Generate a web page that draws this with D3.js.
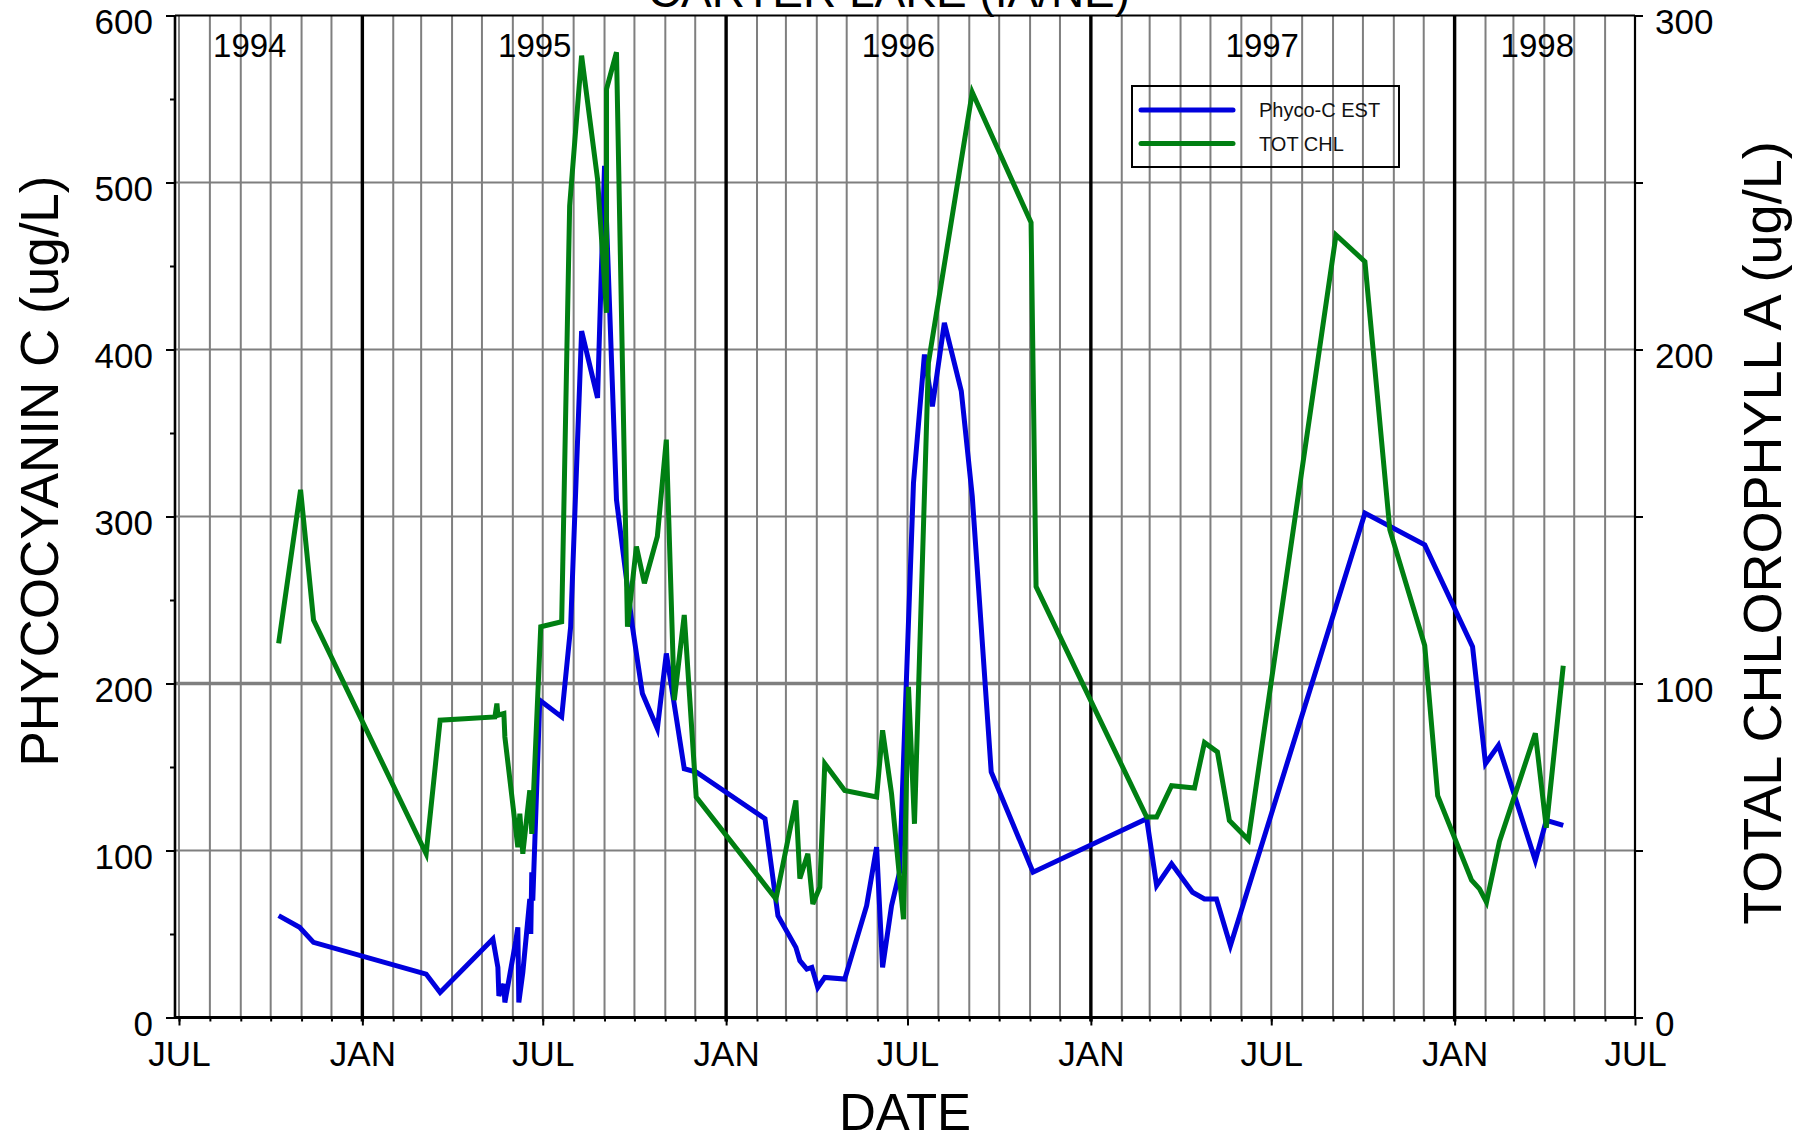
<!DOCTYPE html>
<html>
<head>
<meta charset="utf-8">
<script src="https://cdn.jsdelivr.net/npm/d3@7"></script>
<style>
  body { margin: 0; background: #fff; }
  svg { display: block; font-family: "Liberation Sans", Arial, sans-serif; }
</style>
</head>
<body>
<div id="chart"></div>
<script>
// Phycocyanin C estimate (ug/L, left axis)
const phycoDates = ["1994-10-09","1994-10-30","1994-11-13","1995-03-06","1995-03-20","1995-05-12","1995-05-17","1995-05-18",
  "1995-05-23","1995-05-24","1995-06-04","1995-06-06","1995-06-07","1995-06-11","1995-06-18","1995-06-19","1995-06-20",
  "1995-06-21","1995-06-28","1995-07-20","1995-07-29","1995-08-09","1995-08-25","1995-09-01","1995-09-13","1995-09-29",
  "1995-10-09","1995-10-24","1995-11-02","1995-11-20","1995-12-02","1996-02-09","1996-02-22","1996-03-11","1996-03-15",
  "1996-03-22","1996-03-27","1996-04-02","1996-04-09","1996-04-29","1996-05-21","1996-05-31","1996-06-06","1996-06-15",
  "1996-06-23","1996-07-07","1996-07-18","1996-07-26","1996-08-07","1996-08-24","1996-09-04","1996-09-23","1996-11-04",
  "1997-02-26","1997-03-08","1997-03-23","1997-04-13","1997-04-25","1997-05-07","1997-05-21","1997-10-03","1997-12-02",
  "1998-01-19","1998-02-01","1998-02-14","1998-03-23","1998-04-03","1998-04-20"]
const phycoValues = [61,54,45,26,15,47,30,13,
  20,9,46,54,9,27,71,50,87,
  70,190,180,234,411,371,510,310,234,
  194,173,218,149,147,119,61,42,34,
  29,30,18,24,23,67,102,30,67,
  87,320,397,366,416,375,312,147,87,
  119,79,92,75,71,71,43,302,283,
  222,152,163,94,118,115]

// Total chlorophyll a (ug/L, right axis)
const chlDates = ["1994-10-09","1994-10-31","1994-11-13","1995-03-06","1995-03-20","1995-05-14","1995-05-16","1995-05-17",
  "1995-05-23","1995-05-24","1995-06-06","1995-06-08","1995-06-11","1995-06-18","1995-06-20","1995-06-29","1995-07-20",
  "1995-07-28","1995-08-09","1995-08-25","1995-09-03","1995-09-03","1995-09-13","1995-09-24","1995-10-03","1995-10-11",
  "1995-10-24","1995-11-02","1995-11-10","1995-11-20","1995-12-02","1996-02-20","1996-03-11","1996-03-15","1996-03-23",
  "1996-03-28","1996-04-04","1996-04-09","1996-04-29","1996-05-31","1996-06-06","1996-06-15","1996-06-27","1996-07-02",
  "1996-07-08","1996-07-22","1996-09-04","1996-11-02","1996-11-07","1997-02-26","1997-03-08","1997-03-23","1997-04-15",
  "1997-04-25","1997-05-08","1997-05-20","1997-06-08","1997-09-04","1997-10-03","1997-10-28","1997-12-02","1997-12-15",
  "1998-01-18","1998-01-26","1998-02-02","1998-02-15","1998-03-23","1998-04-03","1998-04-20"]
const chlValues = [112,158,119,49,89,90,94,90.5,
  91,84,51,61,49,68,55,117,118.5,
  243,288,251,211,278,289,117,141,130,
  144,173,95,120.5,66,35.5,65,41.6,49,
  34,39,76,68,66,86,67,29.4,99,
  58,196,277,238,129,60,60,69.4,68.7,
  82.3,79.5,59,53.2,234.3,226.3,146,111.4,66.4,
  41.1,38.5,34.5,52.7,85.1,56.8,105.3]

const yearLabels = ["1994","1995","1996","1997","1998"]
const yearLabelDates = ["1994-09-10","1995-06-23","1996-06-22","1997-06-22","1998-03-25"]
const monthLabels = {0: "JAN", 6: "JUL"}
const leftTicks = [0,100,200,300,400,500,600]
const rightTicks = [0,50,100,150,200,250,300]
const seriesNames = ["Phyco-C EST", "TOT CHL"]
const seriesColors = ["#0000dd", "#007f12"]

const width = 1793, height = 1138
const margin = { top: 15.5, bottom: 120.5, left: 175, right: 158 }
const parse = d3.utcParse("%Y-%m-%d")

const svg = d3.select("#chart").append("svg")
    .attr("width", width)
    .attr("height", height)

const x = d3.scaleUtc()
    .domain([parse("1994-06-27"), parse("1998-07-01")])
    .range([margin.left, width - margin.right])
const yLeft = d3.scaleLinear().domain([0, 600]).range([height - margin.bottom, margin.top])
const yRight = d3.scaleLinear().domain([0, 300]).range([height - margin.bottom, margin.top])

const months = d3.utcMonth.range(parse("1994-07-01"), parse("1998-07-01"))
const majorMonths = months.concat([parse("1998-07-01")]).filter(d => d.getUTCMonth() % 6 === 0)

// grid
const grid = svg.append("g")
grid.selectAll(".hgrid")
    .data([100, 200, 300, 400, 500])
    .join("line")
    .attr("x1", margin.left).attr("x2", width - margin.right)
    .attr("y1", d => yLeft(d)).attr("y2", d => yLeft(d))
    .attr("stroke", "#7f7f7f").attr("stroke-width", d => d === 200 ? 3.4 : 2)
grid.selectAll(".vgrid")
    .data(months.filter(d => d.getUTCMonth() !== 0))
    .join("line")
    .attr("x1", d => x(d)).attr("x2", d => x(d))
    .attr("y1", margin.top).attr("y2", height - margin.bottom)
    .attr("stroke", "#7f7f7f").attr("stroke-width", 2)
grid.selectAll(".ygrid")
    .data(months.filter(d => d.getUTCMonth() === 0))
    .join("line")
    .attr("x1", d => x(d)).attr("x2", d => x(d))
    .attr("y1", margin.top).attr("y2", height - margin.bottom + 4)
    .attr("stroke", "#000").attr("stroke-width", 3.4)

// year labels
svg.append("g").selectAll("text")
    .data(yearLabels)
    .join("text")
    .attr("x", (d, i) => x(parse(yearLabelDates[i])))
    .attr("y", 57)
    .attr("text-anchor", "middle")
    .attr("font-size", 33)
    .text(d => d)

// lines
const phycoData = phycoDates.map((d, i) => ({ date: parse(d), value: phycoValues[i] }))
const chlData = chlDates.map((d, i) => ({ date: parse(d), value: chlValues[i] }))

svg.append("path")
    .datum(phycoData)
    .attr("fill", "none")
    .attr("stroke", seriesColors[0])
    .attr("stroke-width", 5)
    .attr("d", d3.line().x(d => x(d.date)).y(d => yLeft(d.value)))
svg.append("path")
    .datum(chlData)
    .attr("fill", "none")
    .attr("stroke", seriesColors[1])
    .attr("stroke-width", 5)
    .attr("d", d3.line().x(d => x(d.date)).y(d => yRight(d.value)))

// axes
function styleAxis(g, size) {
    g.select(".domain").remove()
    g.selectAll(".tick line").attr("stroke", "#000").attr("stroke-width", 2)
    g.selectAll(".tick text").attr("font-size", size).attr("fill", "#000")
        .attr("font-family", "Liberation Sans, Arial, sans-serif")
}

svg.append("g")
    .attr("transform", `translate(0,${yLeft(0)})`)
    .call(d3.axisBottom(x).tickValues(months).tickSize(4).tickFormat(""))
    .call(g => styleAxis(g, 35))
svg.append("g")
    .attr("transform", `translate(0,${yLeft(0)})`)
    .call(d3.axisBottom(x).tickValues(majorMonths).tickSize(8).tickPadding(16)
        .tickFormat(d => monthLabels[d.getUTCMonth()]))
    .call(g => styleAxis(g, 35))

svg.append("g")
    .attr("transform", `translate(${margin.left},0)`)
    .call(d3.axisLeft(yLeft).tickValues(leftTicks).tickSize(9).tickPadding(13))
    .call(g => styleAxis(g, 35))
    .call(g => g.selectAll(".tick text").attr("dy", "0.52em"))
svg.append("g")
    .attr("transform", `translate(${margin.left},0)`)
    .call(d3.axisLeft(yLeft).tickValues(d3.range(50, 600, 100)).tickSize(5).tickFormat(""))
    .call(g => styleAxis(g, 35))

svg.append("g")
    .attr("transform", `translate(${width - margin.right},0)`)
    .call(d3.axisRight(yRight).tickValues(rightTicks).tickSize(8).tickPadding(12)
        .tickFormat(d => d % 100 === 0 ? d : ""))
    .call(g => styleAxis(g, 35))
    .call(g => g.selectAll(".tick text").attr("dy", "0.52em"))

// frame
const frame = svg.append("g").attr("stroke", "#000")
frame.append("line")
    .attr("x1", margin.left - 1).attr("x2", width - margin.right + 1)
    .attr("y1", yLeft(0)).attr("y2", yLeft(0)).attr("stroke-width", 2.8)
frame.append("line")
    .attr("x1", margin.left).attr("x2", width - margin.right)
    .attr("y1", yLeft(600)).attr("y2", yLeft(600)).attr("stroke-width", 2)
frame.append("line")
    .attr("x1", margin.left).attr("x2", margin.left)
    .attr("y1", yLeft(0)).attr("y2", yLeft(600)).attr("stroke-width", 2.6)
frame.append("line")
    .attr("x1", width - margin.right).attr("x2", width - margin.right)
    .attr("y1", yLeft(0)).attr("y2", yLeft(600)).attr("stroke-width", 2.2)

// titles
svg.append("text")
    .attr("x", 889).attr("y", 7)
    .attr("text-anchor", "middle").attr("font-size", 46)
    .text("CARTER LAKE (IA/NE)")
svg.append("text")
    .attr("x", 905).attr("y", 1130)
    .attr("text-anchor", "middle").attr("font-size", 51)
    .text("DATE")
svg.append("text")
    .attr("transform", "translate(58,471) rotate(-90)")
    .attr("text-anchor", "middle").attr("font-size", 53)
    .text("PHYCOCYANIN C (ug/L)")
svg.append("text")
    .attr("transform", "translate(1781,533) rotate(-90)")
    .attr("text-anchor", "middle").attr("font-size", 54)
    .text("TOTAL CHLOROPHYLL A (ug/L)")

// legend
const legend = svg.append("g")
legend.append("rect")
    .attr("x", 1132).attr("y", 86).attr("width", 267).attr("height", 81)
    .attr("fill", "none").attr("stroke", "#000").attr("stroke-width", 2)
legend.selectAll(".key")
    .data(seriesNames)
    .join("line")
    .attr("x1", 1141).attr("x2", 1233)
    .attr("y1", (d, i) => 110 + i * 33.5).attr("y2", (d, i) => 110 + i * 33.5)
    .attr("stroke", (d, i) => seriesColors[i])
    .attr("stroke-width", 5).attr("stroke-linecap", "round")
legend.selectAll(".label")
    .data(seriesNames)
    .join("text")
    .attr("x", 1259).attr("y", (d, i) => 117 + i * 33.5)
    .attr("font-size", 20).attr("fill", "#111")
    .text(d => d)
</script>
</body>
</html>
